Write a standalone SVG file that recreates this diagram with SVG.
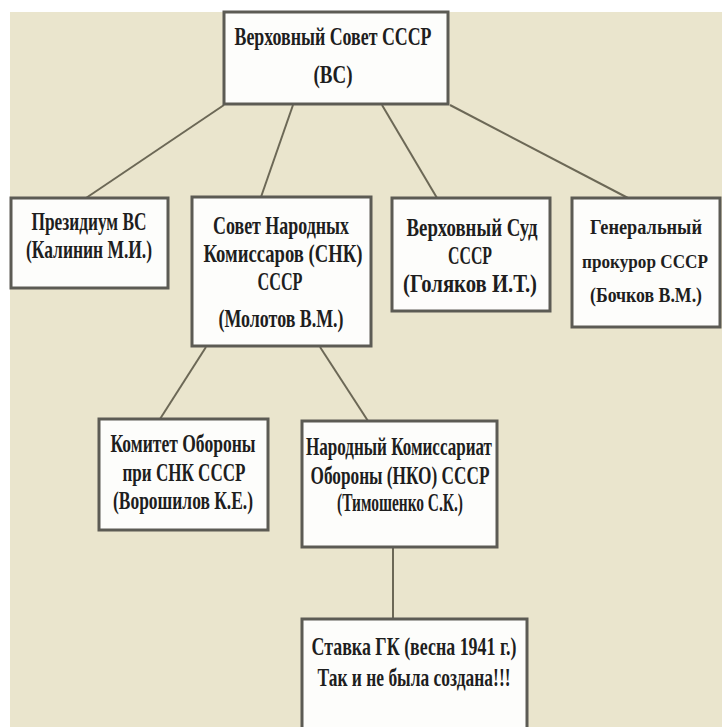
<svg xmlns="http://www.w3.org/2000/svg" width="722" height="727" viewBox="0 0 722 727">
<style>
.box{fill:#fdfdfb;stroke:#5c5b54;stroke-width:3}
.t{font-family:'Liberation Serif','Times New Roman','DejaVu Serif',serif;font-weight:bold;font-size:25px;fill:#1e1e1e;text-anchor:middle}
.s{font-size:20px}
.xs{font-size:18px}
.c{stroke:#6c6856;stroke-width:2;fill:none}
</style>
<rect x="0" y="0" width="722" height="727" fill="#ffffff"/>
<rect x="10" y="12" width="712" height="715" fill="#eae5cd"/>
<g id="connectors">
<line class="c" x1="224" y1="105" x2="86" y2="198"/>
<line class="c" x1="293" y1="105" x2="261" y2="197"/>
<line class="c" x1="382" y1="105" x2="437" y2="198"/>
<line class="c" x1="450" y1="105" x2="628" y2="198"/>
<line class="c" x1="206" y1="347" x2="160" y2="419"/>
<line class="c" x1="320" y1="347" x2="368" y2="421"/>
<line class="c" x1="393" y1="547" x2="393" y2="619"/>
</g>
<g id="vs">
<rect class="box" x="224" y="12" width="224" height="92"/>
<text class="t" x="333" y="45" textLength="197" lengthAdjust="spacingAndGlyphs">Верховный Совет СССР</text>
<text class="t" x="333" y="83" textLength="39" lengthAdjust="spacingAndGlyphs">(ВС)</text>
</g>
<g id="prezidium">
<rect class="box" x="11" y="198" width="157" height="90"/>
<text class="t" x="89" y="230" textLength="115" lengthAdjust="spacingAndGlyphs">Президиум ВС</text>
<text class="t" x="89" y="258" textLength="126" lengthAdjust="spacingAndGlyphs">(Калинин М.И.)</text>
</g>
<g id="snk">
<rect class="box" x="192" y="197" width="179" height="149"/>
<text class="t" x="281" y="234" textLength="136" lengthAdjust="spacingAndGlyphs">Совет Народных</text>
<text class="t" x="283" y="262" textLength="159" lengthAdjust="spacingAndGlyphs">Комиссаров (СНК)</text>
<text class="t" x="280" y="290" textLength="45" lengthAdjust="spacingAndGlyphs">СССР</text>
<text class="t" x="281" y="327" textLength="125" lengthAdjust="spacingAndGlyphs">(Молотов В.М.)</text>
</g>
<g id="sud">
<rect class="box" x="392" y="198" width="158" height="113"/>
<text class="t" x="472" y="236" textLength="131" lengthAdjust="spacingAndGlyphs">Верховный Суд</text>
<text class="t" x="470" y="264" textLength="44" lengthAdjust="spacingAndGlyphs">СССР</text>
<text class="t" x="470" y="292" textLength="134" lengthAdjust="spacingAndGlyphs">(Голяков И.Т.)</text>
</g>
<g id="prokuror">
<rect class="box" x="572" y="198" width="148" height="129"/>
<text class="t s" x="646" y="234" textLength="112" lengthAdjust="spacingAndGlyphs">Генеральный</text>
<text class="t xs" x="645" y="268" textLength="126" lengthAdjust="spacingAndGlyphs">прокурор СССР</text>
<text class="t s" x="646" y="302" textLength="112" lengthAdjust="spacingAndGlyphs">(Бочков В.М.)</text>
</g>
<g id="komitet">
<rect class="box" x="99" y="419" width="169" height="111"/>
<text class="t" x="183" y="452" textLength="145" lengthAdjust="spacingAndGlyphs">Комитет Обороны</text>
<text class="t" x="184" y="481" textLength="123" lengthAdjust="spacingAndGlyphs">при СНК СССР</text>
<text class="t" x="183" y="509" textLength="140" lengthAdjust="spacingAndGlyphs">(Ворошилов К.Е.)</text>
</g>
<g id="nko">
<rect class="box" x="302" y="421" width="195" height="126"/>
<text class="t" x="399" y="455" textLength="186" lengthAdjust="spacingAndGlyphs">Народный Комиссариат</text>
<text class="t" x="400" y="484" textLength="179" lengthAdjust="spacingAndGlyphs">Обороны (НКО) СССР</text>
<text class="t" x="400" y="511" textLength="126" lengthAdjust="spacingAndGlyphs">(Тимошенко С.К.)</text>
</g>
<g id="stavka">
<rect class="box" x="302" y="619" width="225" height="112"/>
<text class="t" x="414" y="655" textLength="205" lengthAdjust="spacingAndGlyphs">Ставка ГК (весна 1941 г.)</text>
<text class="t" x="414" y="686" textLength="193" lengthAdjust="spacingAndGlyphs">Так и не была создана!!!</text>
</g>
</svg>
